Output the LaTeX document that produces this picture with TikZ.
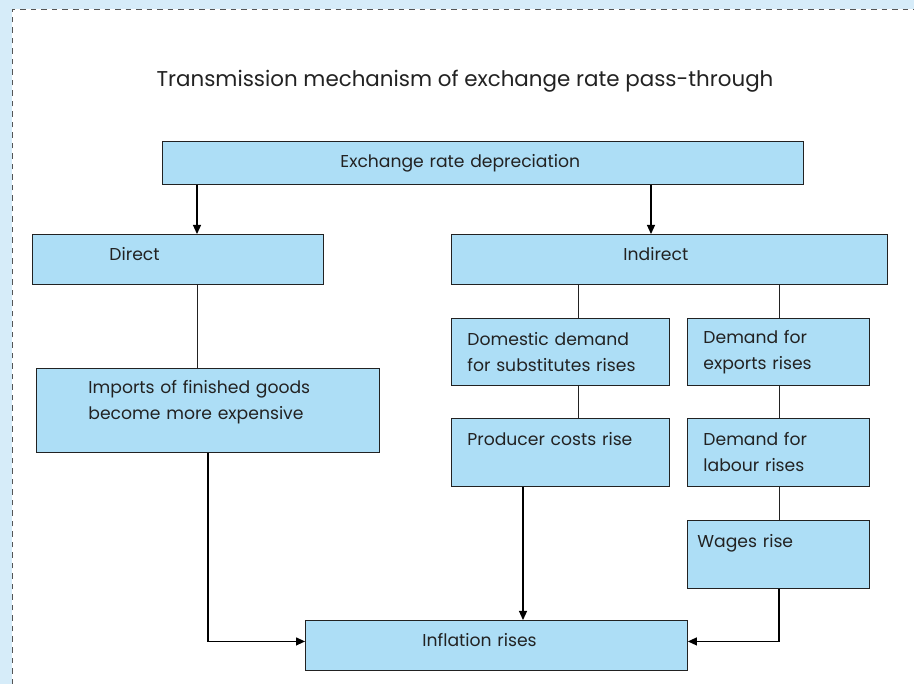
\documentclass[tikz,border=0pt]{standalone}
\usepackage{fontspec}
\setmainfont{Poppins}
\usetikzlibrary{arrows.meta}
\definecolor{boxblue}{HTML}{ADDEF6}
\definecolor{bandblue}{HTML}{D6ECF9}
\definecolor{dashgrey}{HTML}{555555}
\definecolor{inkgrey}{HTML}{222222}
\tikzset{
  box/.style={draw=inkgrey, fill=boxblue, line width=0.9pt, anchor=north west,
    align=left, inner ysep=0pt, text=inkgrey, font=\fontsize{17.2}{26}\selectfont},
  raised/.style={text height=12pt, text depth=10pt},
  link/.style={line width=0.8pt, draw=inkgrey},
  flow/.style={line width=1.2pt, draw=black, -{Triangle[width=8pt,length=9pt]}}
}
\begin{document}
\begin{tikzpicture}[x=1pt,y=-1pt]
\useasboundingbox (0,0) rectangle (914,684);
\fill[bandblue] (0,0) rectangle (914,684);
\fill[white] (12,9) rectangle (914,684);
\draw[dashgrey, line width=0.9pt, dash pattern=on 5.5pt off 5pt] (12.5,684) -- (12.5,9.5) -- (914,9.5);
\node (title) at (465,87) [anchor=base, text=inkgrey, font=\fontsize{21.4}{26}\selectfont]
  {Transmission mechanism of exchange rate pass-through};
\node (exch) at (162,141) [box, minimum width=641pt, minimum height=43pt, inner xsep=178pt, text width=285pt]
  {Exchange rate depreciation};
\node (direct) at (32,234) [box, raised, minimum width=291pt, minimum height=50pt, inner xsep=77pt, text width=137pt]
  {Direct};
\node (indirect) at (451,234) [box, raised, minimum width=436pt, minimum height=50pt, inner xsep=172pt, text width=92pt]
  {Indirect};
\node (imports) at (36,368) [box, minimum width=343pt, minimum height=84pt, inner xsep=52pt, text width=239pt,
  text height=13pt, text depth=47pt]
  {Imports of finished goods\\become more expensive};
\node (domestic) at (451,318) [box, minimum width=218pt, minimum height=67pt, inner xsep=16pt, text width=186pt]
  {Domestic demand\\for substitutes rises};
\node (exports) at (687,318) [box, minimum width=182pt, minimum height=67pt, inner xsep=16pt, text width=150pt]
  {Demand for\\exports rises};
\node (producer) at (451,418) [box, minimum width=218pt, minimum height=68pt, inner xsep=16pt, text width=186pt]
  {Producer costs rise\\~};
\node (labour) at (687,418) [box, minimum width=182pt, minimum height=68pt, inner xsep=16pt, text width=150pt]
  {Demand for\\labour rises};
\node (wages) at (687,520) [box, minimum width=182pt, minimum height=68pt, inner xsep=10pt, text width=162pt]
  {Wages rise\\~};
\node (inflation) at (305,620) [box, raised, minimum width=382pt, minimum height=50pt, inner xsep=117pt, text width=148pt]
  {Inflation rises};
\draw[flow] ([xshift=35pt]exch.south west) -- ([xshift=35pt]exch.south west |- direct.north);
\draw[flow] ([xshift=200pt]indirect.north west |- exch.south) -- ([xshift=200pt]indirect.north west);
\draw[link] ([xshift=165pt]direct.south west) -- ([xshift=165pt]direct.south west |- imports.north);
\draw[link] ([xshift=127pt]indirect.south west) -- ([xshift=127pt]indirect.south west |- domestic.north);
\draw[link] ([xshift=328pt]indirect.south west) -- ([xshift=328pt]indirect.south west |- exports.north);
\draw[link] ([xshift=127pt]domestic.south west) -- ([xshift=127pt]domestic.south west |- producer.north);
\draw[link] ([xshift=92pt]exports.south west) -- ([xshift=92pt]exports.south west |- labour.north);
\draw[link] ([xshift=92pt]labour.south west) -- ([xshift=92pt]labour.south west |- wages.north);
\draw[flow] ([xshift=172pt]imports.south west) |- ([yshift=4pt]inflation.west);
\draw[flow] ([xshift=72pt]producer.south west) -- ([xshift=72pt]producer.south west |- inflation.north);
\draw[flow] ([xshift=92pt]wages.south west) |- ([yshift=4pt]inflation.east);
\end{tikzpicture}
\end{document}
